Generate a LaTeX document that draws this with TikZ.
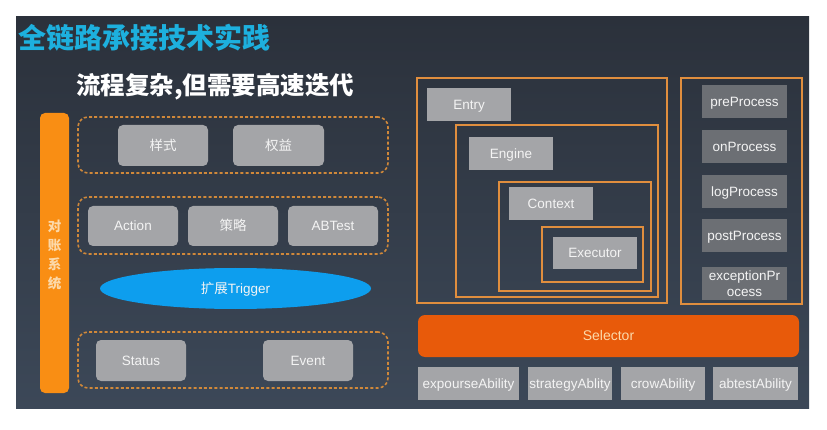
\documentclass[tikz,border=0pt]{standalone}
\usepackage{fontspec}
\setmainfont{Liberation Sans}
\newfontfamily\cjk{Noto Sans CJK SC}
\usetikzlibrary{shapes.geometric}
\definecolor{bgtop}{HTML}{2B313B}
\definecolor{bgbot}{HTML}{3C4858}
\definecolor{titlecyan}{HTML}{1DB0DE}
\definecolor{lgray}{HTML}{A4A5A8}
\definecolor{dgray}{HTML}{6C6F74}
\definecolor{frameor}{HTML}{E08E3E}
\definecolor{dashor}{HTML}{D0883A}
\definecolor{baror}{HTML}{F98E14}
\definecolor{peach}{HTML}{FCD9AA}
\definecolor{selor}{HTML}{E85A0A}
\definecolor{ellblue}{HTML}{0D9EEE}
\definecolor{boxtext}{HTML}{F4F4F4}
\tikzset{
  vc/.style={text height=9.6pt, text depth=0pt},
  lbox/.style={vc, fill=lgray, rounded corners=5pt, inner sep=0pt, text=boxtext, font=\fontsize{13.5}{15}\selectfont},
  rbox/.style={vc, fill=lgray, inner sep=0pt, text=boxtext, font=\fontsize{13.5}{15}\selectfont},
  pbox/.style={fill=dgray, inner sep=0pt, text=boxtext, font=\fontsize{13.5}{16}\selectfont, align=center},
  abox/.style={vc, fill=lgray, inner sep=0pt, text=boxtext, font=\fontsize{13.5}{15}\selectfont, minimum height=33pt},
  dashbox/.style={draw=dashor, line width=1.6pt, dash pattern=on 3pt off 2.2pt, rounded corners=10pt, inner sep=0pt, minimum width=310pt},
  oframe/.style={draw=frameor, line width=1.3pt, inner sep=0pt},
  cjkbox/.style={font=\cjk\fontsize{13.5}{15}\selectfont},
}
\begin{document}
\begin{tikzpicture}[x=1pt,y=-1pt]
\useasboundingbox (0,0) rectangle (827,430);
\fill[white] (0,0) rectangle (827,430);
\shade[top color=bgtop, bottom color=bgbot] (16,17) rectangle (809,408);
% titles
\node[anchor=west, inner sep=0pt, text=titlecyan, font=\cjk\bfseries\fontsize{28}{30}\selectfont] (title) at (18,38) {全链路承接技术实践};
\node[anchor=west, inner sep=0pt, text=white, font=\cjk\bfseries\fontsize{24.5}{26}\selectfont] (sub) at (76,87) {流程复杂,但需要高速迭代};
% left side
\node[fill=baror, rounded corners=5pt, minimum width=29pt, minimum height=280pt, inner sep=0pt] (bar) at (54.5,253) {};
\node[text=peach, font=\cjk\bfseries\fontsize{13.5}{19}\selectfont, align=center, inner sep=0pt] (bartext) at (54.5,254.5) {对\\账\\系\\统};
\node[dashbox, minimum height=56pt] (d1) at (233,145) {};
\node[lbox, cjkbox, minimum width=90pt, minimum height=41pt] (yangshi) at (163,145.5) {样式};
\node[lbox, cjkbox, minimum width=91pt, minimum height=41pt] (quanyi) at (278.5,145.5) {权益};
\node[dashbox, minimum height=57pt] (d2) at (233,225.5) {};
\node[lbox, minimum width=90pt, minimum height=40pt] (action) at (133,226) {Action};
\node[lbox, cjkbox, minimum width=90pt, minimum height=40pt] (celue) at (233,226) {策略};
\node[lbox, minimum width=90pt, minimum height=40pt] (abtest) at (333,226) {ABTest};
\node[ellipse, vc, fill=ellblue, minimum width=271pt, minimum height=41pt, inner sep=0pt, text=boxtext, font=\fontsize{13.5}{15}\selectfont] (trigger) at (235.5,288.5) {{\cjk 扩展}Trigger};
\node[dashbox, minimum height=56pt] (d3) at (233,360) {};
\node[lbox, minimum width=90pt, minimum height=41pt] (status) at (141,360.5) {Status};
\node[lbox, minimum width=90pt, minimum height=41pt] (event) at (308,360.5) {Event};
% right side nested frames
\node[oframe, minimum width=250pt, minimum height=225pt] (entryF) at (542,190.5) {};
\node[rbox, minimum width=84pt, minimum height=33pt] (entry) at (469,104.5) {Entry};
\node[oframe, minimum width=202pt, minimum height=172pt] (engineF) at (557,211) {};
\node[rbox, minimum width=84pt, minimum height=33pt] (engine) at (511,153.5) {Engine};
\node[oframe, minimum width=152pt, minimum height=109pt] (contextF) at (575,236.5) {};
\node[rbox, minimum width=84pt, minimum height=33pt] (context) at (551,203.5) {Context};
\node[oframe, minimum width=101pt, minimum height=55pt] (execF) at (592.5,254.5) {};
\node[rbox, minimum width=84pt, minimum height=32pt] (executor) at (595,253) {Executor};
% process column
\node[oframe, minimum width=121pt, minimum height=226pt] (procF) at (741.5,191) {};
\node[pbox, vc, minimum width=85pt, minimum height=33pt] (pre) at (744.5,101.5) {preProcess};
\node[pbox, vc, minimum width=85pt, minimum height=33pt] (on) at (744.5,146.5) {onProcess};
\node[pbox, vc, minimum width=85pt, minimum height=33pt] (log) at (744.5,191.5) {logProcess};
\node[pbox, vc, minimum width=85pt, minimum height=33pt] (post) at (744.5,236) {postProcess};
\node[pbox, minimum width=85pt, minimum height=33pt] (exc) at (744.5,283.5) {exceptionPr\\ocess};
% selector
\node[vc, fill=selor, rounded corners=7pt, minimum width=381pt, minimum height=42pt, inner sep=0pt, text=peach, font=\fontsize{14}{16}\selectfont] (selector) at (608.5,336) {Selector};
% abilities
\node[abox, minimum width=101pt] (expo) at (468.5,383.5) {expourseAbility};
\node[abox, minimum width=84pt] (strat) at (570,383.5) {strategyAblity};
\node[abox, minimum width=84pt] (crow) at (663,383.5) {crowAbility};
\node[abox, minimum width=85pt] (abt) at (755.5,383.5) {abtestAbility};
\end{tikzpicture}
\end{document}
